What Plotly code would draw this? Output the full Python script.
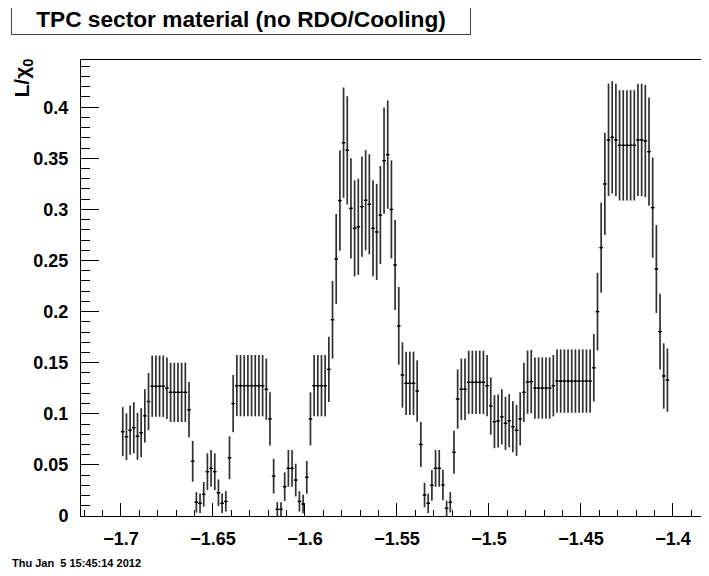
import numpy as np
import plotly.graph_objects as go

# histogram binning (eta), 149 bins of width 0.002
bin_lo = -1.700
bin_width = 0.002
n_bins = 149

# L/X0 per bin
values = [
    0.0825, 0.0776, 0.084, 0.0864, 0.078, 0.0815, 0.098, 0.112, 0.127, 0.127,
    0.127, 0.127, 0.125, 0.121, 0.121, 0.121, 0.121, 0.121, 0.104, 0.0535,
    0.0134, 0.0124, 0.0212, 0.0434, 0.0466, 0.0434, 0.0228, 0.0124, 0.0143, 0.057,
    0.110, 0.1275, 0.1275, 0.1275, 0.1275, 0.1275, 0.1275, 0.1275, 0.1275, 0.124,
    0.095, 0.039, 0.0065, 0.0065, 0.0287, 0.0466, 0.0466, 0.0352, 0.0143, 0.0117,
    0.0378, 0.095, 0.1275, 0.1275, 0.1275, 0.1275, 0.1435, 0.192, 0.2515, 0.3086,
    0.3653, 0.3578, 0.301, 0.2815, 0.283, 0.3027, 0.309, 0.305, 0.2815, 0.278,
    0.2945, 0.3477, 0.3536, 0.300, 0.2456, 0.186, 0.138, 0.1298, 0.1298, 0.1298,
    0.1223, 0.070, 0.0205, 0.0124, 0.030, 0.0466, 0.0466, 0.0303, 0.0075, 0.0134,
    0.0623, 0.1145, 0.124, 0.124, 0.1308, 0.1308, 0.1308, 0.1308, 0.1308, 0.1275,
    0.1076, 0.0923, 0.093, 0.097, 0.0907, 0.0932, 0.0874, 0.0838, 0.095, 0.121,
    0.131, 0.1315, 0.1252, 0.1252, 0.1252, 0.1252, 0.1252, 0.1275, 0.132, 0.132,
    0.132, 0.132, 0.132, 0.132, 0.132, 0.132, 0.132, 0.132, 0.145, 0.200,
    0.2626, 0.3249, 0.368, 0.3705, 0.368, 0.3627, 0.3627, 0.3627, 0.3627, 0.3627,
    0.368, 0.368, 0.367, 0.3565, 0.3017, 0.2417, 0.1804, 0.137, 0.133,
]

# statistical errors per bin
errors = [
    0.024, 0.023, 0.024, 0.025, 0.023, 0.024, 0.026, 0.028, 0.030, 0.030,
    0.030, 0.030, 0.030, 0.029, 0.029, 0.029, 0.029, 0.029, 0.027, 0.020,
    0.010, 0.0095, 0.012, 0.018, 0.018, 0.018, 0.013, 0.0095, 0.010, 0.021,
    0.028, 0.030, 0.030, 0.030, 0.030, 0.030, 0.030, 0.030, 0.030, 0.030,
    0.026, 0.017, 0.007, 0.007, 0.014, 0.018, 0.018, 0.016, 0.010, 0.009,
    0.016, 0.026, 0.030, 0.030, 0.030, 0.030, 0.032, 0.038, 0.044, 0.049,
    0.054, 0.053, 0.049, 0.047, 0.047, 0.049, 0.049, 0.049, 0.047, 0.047,
    0.048, 0.052, 0.053, 0.048, 0.044, 0.038, 0.032, 0.031, 0.031, 0.031,
    0.030, 0.022, 0.012, 0.0095, 0.015, 0.018, 0.018, 0.015, 0.0075, 0.010,
    0.021, 0.029, 0.030, 0.030, 0.031, 0.031, 0.031, 0.031, 0.031, 0.030,
    0.028, 0.026, 0.026, 0.027, 0.026, 0.026, 0.025, 0.025, 0.026, 0.029,
    0.031, 0.031, 0.030, 0.030, 0.030, 0.030, 0.030, 0.030, 0.031, 0.031,
    0.031, 0.031, 0.031, 0.031, 0.031, 0.031, 0.031, 0.031, 0.033, 0.038,
    0.044, 0.050, 0.055, 0.055, 0.055, 0.054, 0.054, 0.054, 0.054, 0.054,
    0.055, 0.055, 0.055, 0.053, 0.049, 0.043, 0.037, 0.032, 0.031,
]

centers = bin_lo + bin_width * (np.arange(n_bins) + 0.5)

# the page puts the figure 8px in from the top-left, so work in figure pixels
OFF = 8
W, H = 709, 576
L, R, T, B = 81 - OFF, W, 60 - OFF, 516 - OFF
PX_PER_X = 1840.0   # pixels per unit of eta
PX_PER_Y = 1022.0   # pixels per unit of L/X0

def px(x):
    return (x - OFF - L) / (R - L)

def py(y):
    return (B - (y - OFF)) / (B - T)

bar_col = '#303030'
fig = go.Figure(go.Scatter(
    x=centers, y=values, mode='markers',
    marker=dict(size=2, color='black'),
    error_y=dict(type='data', array=errors, width=0, thickness=1.7, color=bar_col),
    error_x=dict(type='constant', value=bin_width / 2, width=0, thickness=1.3, color='black'),
    showlegend=False))

font_fam = 'Liberation Sans, Arial, sans-serif'
tickfont = dict(family=font_fam, size=18, color='black', weight='bold')

fig.update_layout(
    width=W, height=H,
    margin=dict(l=L, r=W - R, t=T, b=H - B, pad=0),
    paper_bgcolor='white', plot_bgcolor='white',
    xaxis=dict(range=[-1.7217, -1.7217 + (R - L) / PX_PER_X], showline=True, linecolor='black',
               linewidth=1, mirror=True, showgrid=False, zeroline=False,
               ticks='inside', ticklen=13, tickcolor='black', tickwidth=1,
               tick0=-1.7, dtick=0.05, tickfont=tickfont, ticklabelstandoff=6,
               minor=dict(ticks='inside', ticklen=6, dtick=0.01, tick0=-1.7,
                          tickcolor='black', showgrid=False)),
    yaxis=dict(range=[0, (B - T) / PX_PER_Y], showline=True, linecolor='black', linewidth=1,
               mirror=False, showgrid=False, zeroline=False,
               ticks='inside', ticklen=18, tickcolor='black', tickwidth=1,
               tick0=0, dtick=0.05, tickfont=tickfont, ticklabelstandoff=8,
               minor=dict(ticks='inside', ticklen=9, dtick=0.01, tickcolor='black',
                          showgrid=False)),
)

# title in its own box
fig.add_annotation(x=px(241), y=py(19), xref='paper', yref='paper',
                   text='TPC sector material (no RDO/Cooling)', showarrow=False,
                   font=dict(family=font_fam, size=22.7, color='black', weight='bold'),
                   width=456, height=28, align='center', valign='middle',
                   bordercolor='#444', borderwidth=1, borderpad=1, bgcolor='white',
                   xanchor='center', yanchor='middle')

# y axis title, top aligned
fig.add_annotation(x=px(22), y=py(57), xref='paper', yref='paper',
                   text='L/χ<sub>0</sub>', textangle=-90, showarrow=False,
                   font=dict(family=font_fam, size=21, color='black', weight='bold'),
                   xanchor='center', yanchor='top')

# date stamp
fig.add_annotation(x=px(10), y=py(563), xref='paper', yref='paper',
                   text='Thu Jan\u00a0\u00a05 15:45:14 2012', showarrow=False,
                   font=dict(family=font_fam, size=11, color='black', weight='bold'),
                   xanchor='left', yanchor='middle')

# x axis title (cut off by canvas edge)
fig.add_annotation(x=px(703), y=py(563), xref='paper', yref='paper',
                   text='η', showarrow=False,
                   font=dict(family=font_fam, size=14, color='black', weight='bold'),
                   xanchor='left', yanchor='middle')

fig.write_html("out.html")
